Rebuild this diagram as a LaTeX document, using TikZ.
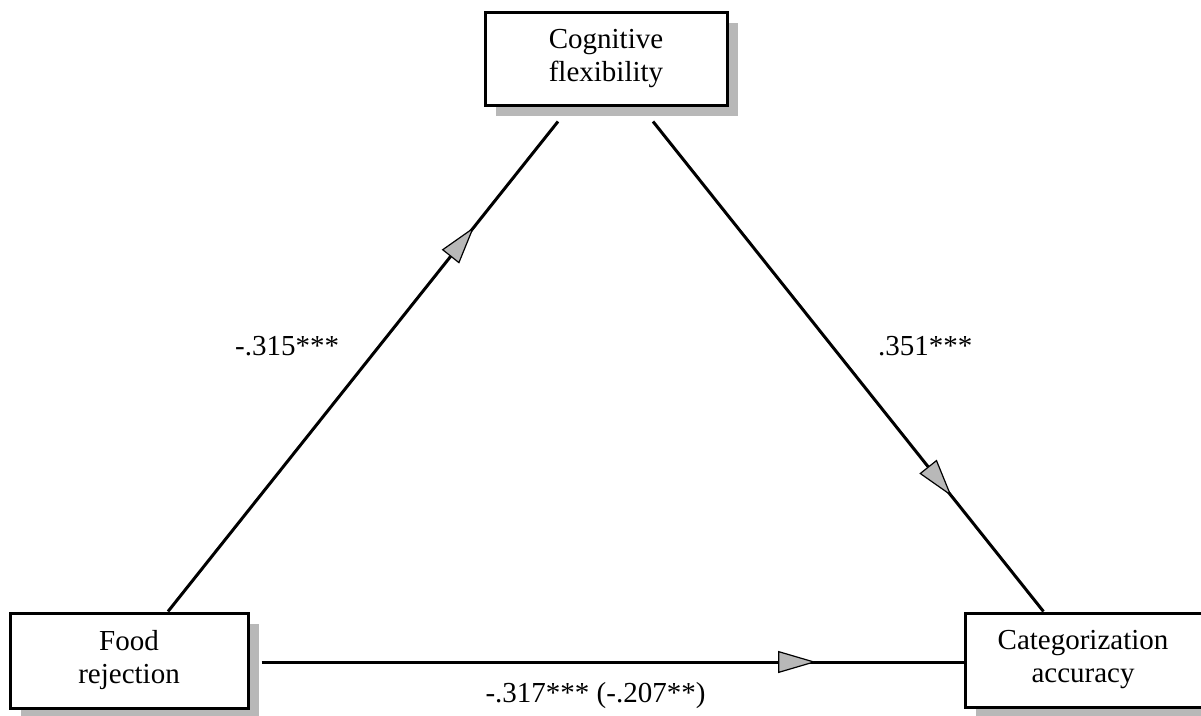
\documentclass[tikz,border=0pt]{standalone}
\usepackage{fontspec}
\setmainfont{Liberation Serif}
\usetikzlibrary{shadows,arrows.meta,decorations.markings,calc}
\tikzset{
  box/.style={draw=black, line width=3pt, fill=white, align=center,
    inner sep=0pt,
    font=\fontsize{29}{33}\selectfont,
    drop shadow={shadow xshift=11pt, shadow yshift=-11pt, fill=black!28, opacity=1}},
  conn/.style={draw=black, line width=3pt},
  lbl/.style={font=\fontsize{29}{33}\selectfont, inner sep=0pt},
  mid arrow/.style={postaction={decorate}, decoration={markings,
    mark=at position #1 with {\arrow[line width=1.2pt]{Triangle[length=38pt,width=22pt,fill=black!28]}}}}
}
\begin{document}
\begin{tikzpicture}[x=1pt,y=-1pt]
\useasboundingbox (0,0) rectangle (1201,715);
\clip (0,0) rectangle (1201,715);
\node[box, minimum width=242pt, minimum height=93pt] (cf) at (606,58.5) {Cognitive\\flexibility};
\node[box, minimum width=238pt, minimum height=95pt] (fr) at (129,660.5) {Food\\rejection};
\node[box, minimum width=280pt, minimum height=94pt, text width=250pt] (ca) at (1105,660) {\hspace*{-44pt}Categorization\\\hspace*{-44pt}accuracy};
\coordinate (h) at ([xshift=12pt,yshift=-1.5pt]fr.east);
\draw[conn, mid arrow=0.785] ([xshift=39pt]fr.north) -- ([xshift=-48pt,yshift=-15pt]cf.south);
\draw[conn, mid arrow=0.765] ([xshift=47pt,yshift=-15pt]cf.south) -- ([xshift=80pt]ca.north west);
\draw[conn, mid arrow=0.79] (h) -- (h -| ca.west);
\node[lbl, anchor=base west] (l1) at (235,355) {-.315***};
\node[lbl, anchor=base west] (l2) at (878,355) {.351***};
\node[lbl, anchor=base] (l3) at (595.5,702) {-.317*** (-.207**)};
\end{tikzpicture}
\end{document}
